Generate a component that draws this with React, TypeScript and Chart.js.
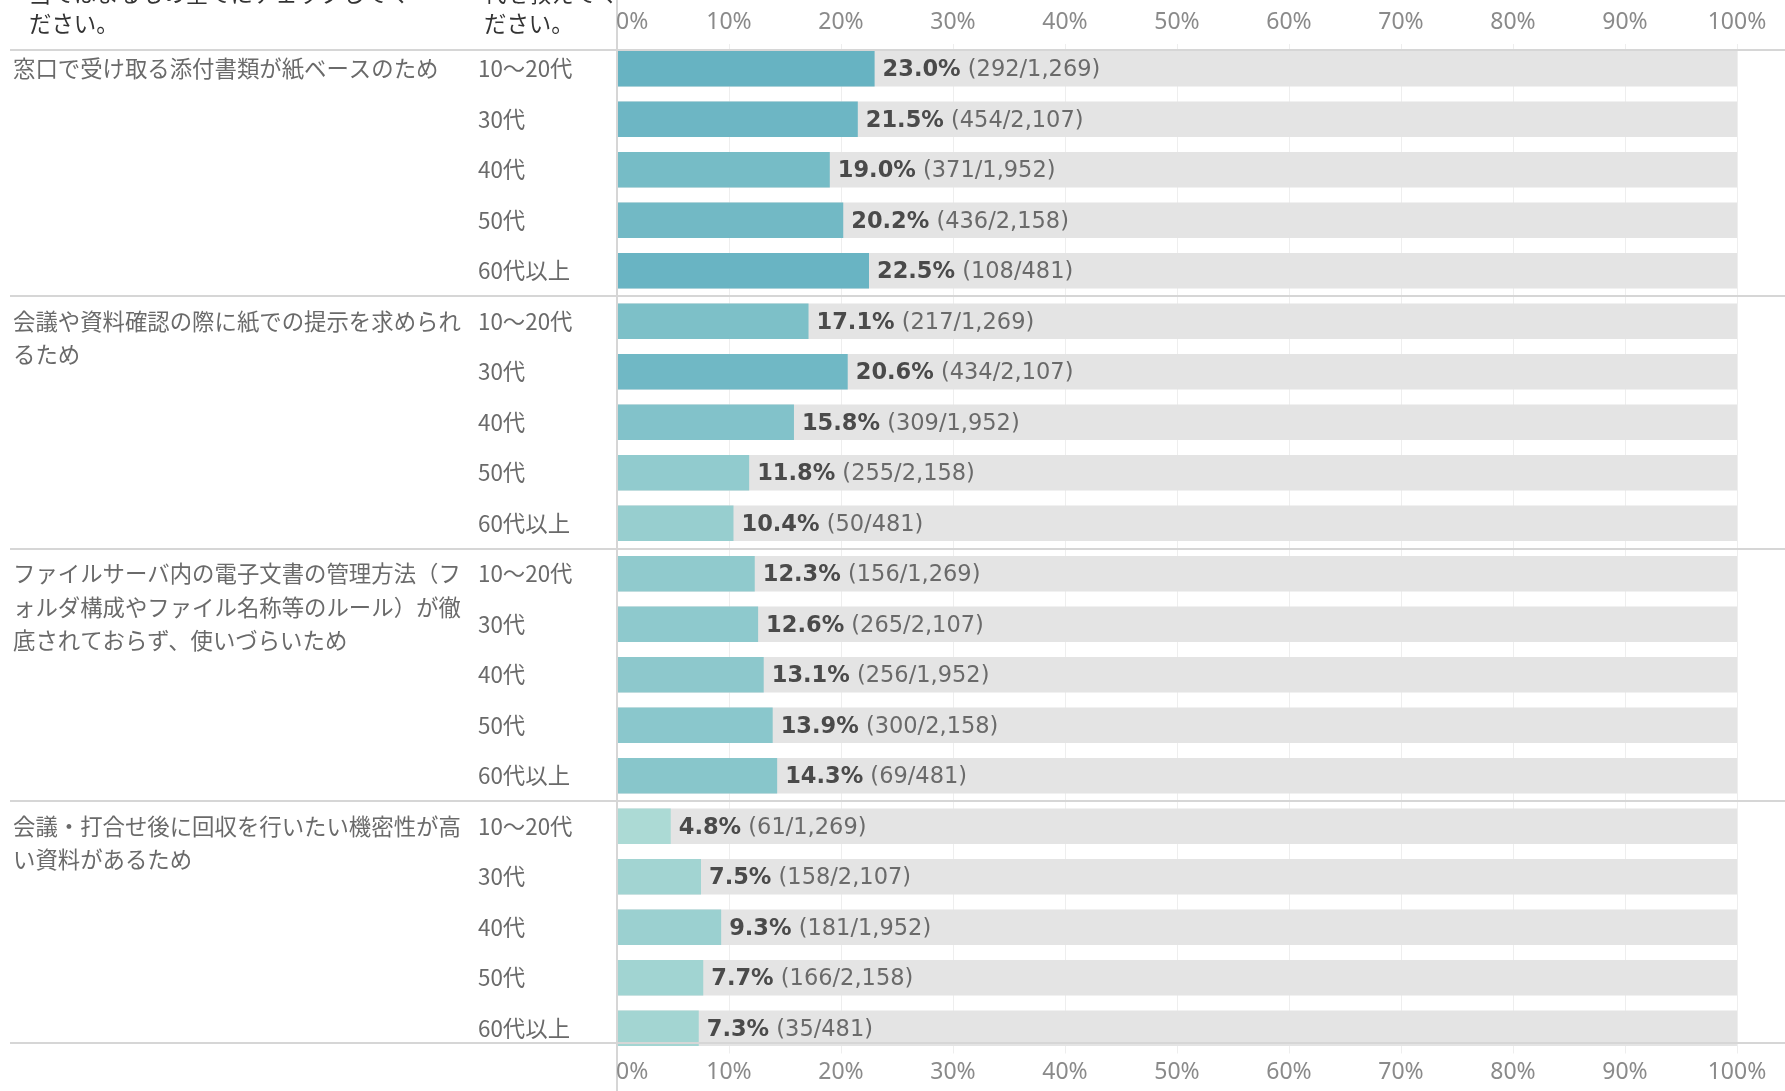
import { useEffect, useRef } from 'react';
import { Chart, registerables } from 'chart.js';

Chart.register(...registerables);

const CANVAS_W = 1785;
const CANVAS_H = 1091;

// ---- data ----
const reasonLines: string[][] = [
  ['窓口で受け取る添付書類が紙ベースのため'],
  ['会議や資料確認の際に紙での提示を求められ', 'るため'],
  ['ファイルサーバ内の電子文書の管理方法（フ', 'ォルダ構成やファイル名称等のルール）が徹', '底されておらず、使いづらいため'],
  ['会議・打合せ後に回収を行いたい機密性が高', 'い資料があるため'],
];
const ageGroups = ['10～20代', '30代', '40代', '50代', '60代以上'];
const respondents = [1269, 2107, 1952, 2158, 481];
const percentages = [
  23.0, 21.5, 19.0, 20.2, 22.5,
  17.1, 20.6, 15.8, 11.8, 10.4,
  12.3, 12.6, 13.1, 13.9, 14.3,
  4.8, 7.5, 9.3, 7.7, 7.3,
];
const counts = [
  292, 454, 371, 436, 108,
  217, 434, 309, 255, 50,
  156, 265, 256, 300, 69,
  61, 158, 181, 166, 35,
];
const fullScale = [
  100, 100, 100, 100, 100,
  100, 100, 100, 100, 100,
  100, 100, 100, 100, 100,
  100, 100, 100, 100, 100,
];
const tickValues = [0, 10, 20, 30, 40, 50, 60, 70, 80, 90, 100];
const headerLeft = ['当てはまるもの全てにチェックしてく', 'ださい。'];
const headerRight = ['代を教えてく', 'ださい。'];

// ---- derived ----
const rowLabels: string[] = [];
reasonLines.forEach((r) => ageGroups.forEach((a) => rowLabels.push(`${r.join('')}|${a}`)));

const LOW = [172, 218, 213];
const HIGH = [103, 179, 194];
const minP = Math.min(...percentages);
const maxP = Math.max(...percentages);
const barColors = percentages.map((p) => {
  const t = (p - minP) / (maxP - minP);
  const c = LOW.map((l, i) => Math.round(l + (HIGH[i] - l) * t));
  return `rgb(${c[0]},${c[1]},${c[2]})`;
});

const JP_FONT = '22.4px "Noto Sans CJK JP", "Noto Sans", sans-serif';
const TICK_FONT = '23px "Noto Sans", "DejaVu Sans", sans-serif';
const VAL_BOLD = 'bold 22.5px "DejaVu Sans", Verdana, sans-serif';
const VAL_REG = '22.5px "DejaVu Sans", Verdana, sans-serif';
const LINE_COLOR = '#d6d6d6';

const overlayPlugin = {
  id: 'overlay',
  afterDatasetsDraw(chart: any) {
    const { ctx, scales } = chart;
    const x = scales.x;
    const y = scales.y;
    const pitch = y.getPixelForValue(1) - y.getPixelForValue(0);
    const n = rowLabels.length;
    const x0 = x.getPixelForValue(0);

    ctx.save();
    ctx.strokeStyle = LINE_COLOR;
    ctx.lineWidth = 2;
    const hLine = (yy: number) => {
      ctx.beginPath();
      ctx.moveTo(10, yy);
      ctx.lineTo(CANVAS_W, yy);
      ctx.stroke();
    };
    hLine(Math.round(y.getPixelForValue(0) - pitch * 0.37));
    hLine(Math.round(y.getPixelForValue(n - 1) + pitch * 0.3));
    for (let g = 1; g < reasonLines.length; g++) {
      const i = g * ageGroups.length;
      hLine(Math.round((y.getPixelForValue(i - 1) + y.getPixelForValue(i)) / 2));
    }
    ctx.beginPath();
    ctx.moveTo(x0, 0);
    ctx.lineTo(x0, CANVAS_H);
    ctx.stroke();

    // value labels
    const meta = chart.getDatasetMeta(0);
    ctx.textBaseline = 'middle';
    ctx.textAlign = 'left';
    meta.data.forEach((bar: any, i: number) => {
      const age = i % ageGroups.length;
      const bold = `${percentages[i].toFixed(1)}%`;
      const rest = ` (${counts[i].toLocaleString('en-US')}/${respondents[age].toLocaleString('en-US')})`;
      let tx = bar.x + 8;
      ctx.font = VAL_BOLD;
      ctx.fillStyle = '#4a4a4a';
      ctx.fillText(bold, tx, bar.y + 1.5);
      tx += ctx.measureText(bold).width;
      ctx.font = VAL_REG;
      ctx.fillStyle = '#6a6a6a';
      ctx.fillText(rest, tx, bar.y + 1.5);
    });
    ctx.restore();
  },
  afterDraw(chart: any) {
    const { ctx, scales } = chart;
    const x = scales.x;
    const y = scales.y;
    const n = rowLabels.length;
    const pitch = y.getPixelForValue(1) - y.getPixelForValue(0);
    const topY = y.getPixelForValue(0) - pitch * 0.37;
    const botY = y.getPixelForValue(n - 1) + pitch * 0.3;

    ctx.save();
    // tick labels, top and bottom
    ctx.font = TICK_FONT;
    ctx.fillStyle = '#8a8a8a';
    ctx.textBaseline = 'middle';
    tickValues.forEach((v, k) => {
      const px = x.getPixelForValue(v);
      ctx.textAlign = k === 0 ? 'left' : 'center';
      const lx = k === 0 ? px - 1 : px;
      ctx.fillText(`${v}%`, lx, topY - 28);
      ctx.fillText(`${v}%`, lx, botY + 29);
    });

    // category + age labels
    ctx.font = JP_FONT;
    ctx.fillStyle = '#6a6a6a';
    ctx.textAlign = 'left';
    reasonLines.forEach((lines, g) => {
      const c = y.getPixelForValue(g * ageGroups.length);
      lines.forEach((ln, li) => ctx.fillText(ln, 13, c + li * 33.6));
    });
    for (let i = 0; i < n; i++) {
      ctx.fillText(ageGroups[i % ageGroups.length], 478, y.getPixelForValue(i));
    }

    // header (clipped at top)
    ctx.fillStyle = '#333333';
    headerLeft.forEach((ln, li) => ctx.fillText(ln, 29, topY - 57 + li * 30));
    headerRight.forEach((ln, li) => ctx.fillText(ln, 484, topY - 57 + li * 30));
    ctx.restore();
  },
};

export default function App() {
  const ref = useRef<HTMLCanvasElement | null>(null);
  useEffect(() => {
    if (!ref.current) return;
    const chart = new Chart(ref.current, {
      type: 'bar',
      data: {
        labels: rowLabels,
        datasets: [
          {
            data: percentages,
            backgroundColor: barColors,
            order: 0,
            grouped: false,
            barPercentage: 0.7,
            categoryPercentage: 1,
          } as any,
          {
            data: fullScale,
            backgroundColor: '#e4e4e4',
            order: 1,
            grouped: false,
            barPercentage: 0.7,
            categoryPercentage: 1,
          } as any,
        ],
      },
      options: {
        indexAxis: 'y',
        responsive: false,
        animation: false,
        devicePixelRatio: 1,
        layout: { padding: { left: 617, right: 48, top: 43.5, bottom: 37.5 } },
        plugins: { legend: { display: false }, tooltip: { enabled: false } },
        scales: {
          x: {
            type: 'linear',
            position: 'top',
            min: 0,
            max: 100,
            grid: { color: '#eeeeee', lineWidth: 1, drawTicks: false },
            border: { display: false },
            ticks: { display: false, stepSize: 10 },
          },
          y: {
            type: 'category',
            display: false,
          },
        },
      },
      plugins: [overlayPlugin],
    });
    return () => chart.destroy();
  }, []);
  return (
    <div style={{ position: 'absolute', left: 0, top: 0, width: CANVAS_W, height: CANVAS_H, background: '#fff' }}>
      <canvas ref={ref} width={CANVAS_W} height={CANVAS_H} style={{ display: 'block' }} />
    </div>
  );
}
